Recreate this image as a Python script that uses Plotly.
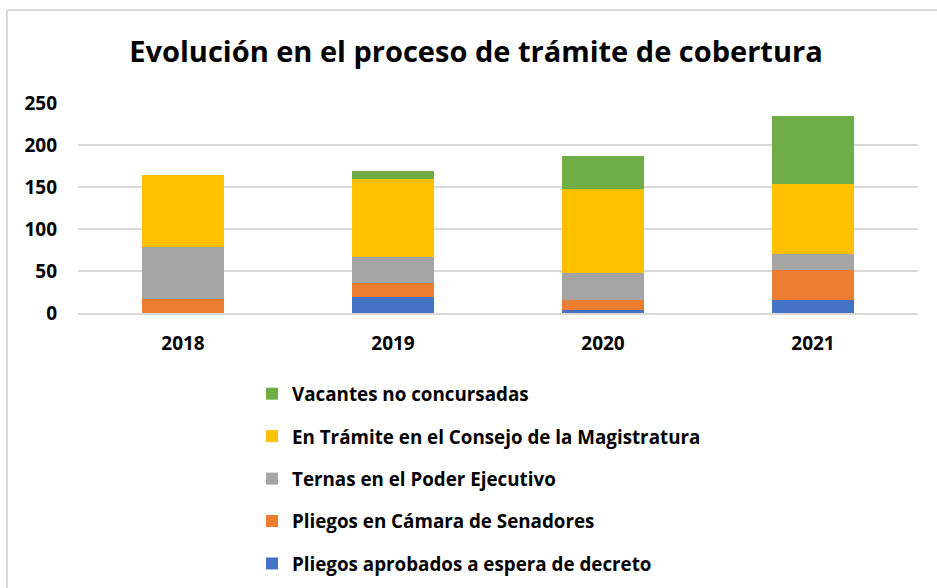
import plotly.graph_objects as go

years = ["2018", "2019", "2020", "2021"]

aprobados = [0, 19, 3, 15]
senadores = [17, 17, 12, 36]
ternas = [62, 31, 33, 19]
tramite = [85, 92, 100, 84]
vacantes = [0, 10, 39, 81]

series = [
    ("Pliegos aprobados a espera de decreto", aprobados, "#4472C4"),
    ("Pliegos en Cámara de Senadores", senadores, "#ED7D31"),
    ("Ternas en el Poder Ejecutivo", ternas, "#A5A5A5"),
    ("En Trámite en el Consejo de la Magistratura", tramite, "#FFC000"),
    ("Vacantes no concursadas", vacantes, "#70AD47"),
]

font_name = "Open Sans, Lato, sans-serif"

fig = go.Figure()
for i, (name, vals, color) in enumerate(series):
    fig.add_trace(go.Bar(
        x=years, y=vals, name="<b>" + name + "</b>",
        marker=dict(color=color, line=dict(width=0)),
        legendgroup=str(i),
        legendrank=len(series) - i,  # green on top, like the original
    ))

# plot area px: x 78..918, y 103..313
fig.update_layout(
    barmode="stack",
    bargap=0.606,
    width=937, height=588,
    margin=dict(l=78, r=19, t=103, b=275),
    paper_bgcolor="white",
    plot_bgcolor="white",
    font=dict(family=font_name, color="#000000"),
    title=dict(
        text="<b>Evolución en el proceso de trámite de cobertura</b>",
        font=dict(size=29, color="#000000"),
        x=476 / 937, xanchor="center", y=1 - 52 / 588, yanchor="middle",
    ),
    showlegend=True,
    legend=dict(
        tracegroupgap=15,
        orientation="v",
        xref="paper", x=(252 - 78) / 840, xanchor="left",
        yref="container", y=1 - 375 / 588, yanchor="top",
        font=dict(size=18.8, color="#000000", family=font_name),
        bgcolor="rgba(0,0,0,0)",
    ),
    xaxis=dict(
        showgrid=False,
        showline=True, linecolor="#D9D9D9", linewidth=2,
        ticks="", ticklabelstandoff=12,
        tickfont=dict(size=19, color="#000000"),
        tickprefix="<b>", ticksuffix="</b>",
    ),
    yaxis=dict(
        range=[0, 250], dtick=50,
        showgrid=True, gridcolor="#D9D9D9", gridwidth=2,
        zeroline=False,
        ticks="", ticklabelstandoff=20,
        tickfont=dict(size=19, color="#000000"),
        tickprefix="<b>", ticksuffix="</b>",
    ),
    shapes=[
        dict(type="line", xref="paper", yref="paper",
             x0=(7 - 78) / 840, x1=(937 - 78) / 840,
             y0=(313 - 10) / 210, y1=(313 - 10) / 210,
             line=dict(color="#D9D9D9", width=2)),
        dict(type="line", xref="paper", yref="paper",
             x0=(7 - 78) / 840, x1=(7 - 78) / 840,
             y0=(313 - 10) / 210, y1=(313 - 588) / 210,
             line=dict(color="#D9D9D9", width=2)),
    ],
)

# page body has an 8px default margin; drop it so pixel positions line up
fig.write_html("out.html", config={"displayModeBar": False},
               post_script="document.body.style.margin='0';")
